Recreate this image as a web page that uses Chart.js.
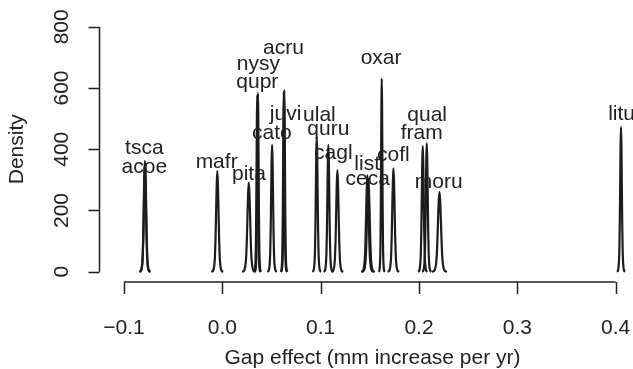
<!DOCTYPE html>
<html>
<head>
<meta charset="utf-8">
<script src="https://cdn.jsdelivr.net/npm/chart.js@4/dist/chart.umd.min.js"></script>
<style>
  html, body { margin: 0; padding: 0; background: #ffffff; }
  canvas { display: block; }
</style>
</head>
<body>
<canvas id="c" width="633" height="369"></canvas>
<script>
// ---- data ----
const speciesNames = ['tsca','acoe','mafr','pita','qupr','nysy','cato','juvi','acru','ulal',
                      'quru','cagl','list','ceca','oxar','cofl','fram','qual','moru','litu'];
// posterior mode of each gap effect (mm increase per yr)
const peakCenters = [-0.0788,-0.0786,-0.0051,0.0269,0.0355,0.0362,0.0506,0.0625,0.0630,0.0960,
                     0.1078,0.1170,0.1475,0.1485,0.1621,0.1740,0.2038,0.2079,0.2208,0.4054];
// peak density heights
const peakHeights = [362,356,329,291,578,584,414,588,593,441,
                     414,332,315,303,631,338,410,419,261,473];
// spread (sd) of each density curve
const peakSpreads = [0.00110,0.00112,0.00121,0.00137,0.00069,0.00068,0.00096,0.00068,0.00067,0.00090,
                     0.00096,0.00120,0.00127,0.00132,0.00063,0.00118,0.00097,0.00095,0.00153,0.00084];
// shared bell profile: offsets (in spreads) and relative heights
const profileZ   = [-5,-4,-3.5,-3,-2.5,-2,-1.5,-1,-0.5,0,0.5,1,1.5,2,2.5,3,3.5,4,5];
const profileRel = [0,0.004,0.012,0.03,0.07,0.15,0.33,0.61,0.88,1,0.88,0.61,0.33,0.15,0.07,0.03,0.012,0.004,0];

// label positions (data coordinates)
const labelText = ['tsca','acoe','mafr','pita','qupr','nysy','acru','cato','juvi','ulal',
                   'quru','cagl','list','ceca','oxar','cofl','qual','fram','moru','litu'];
const labelX = [-0.0793,-0.0793,-0.0058,0.0270,0.0356,0.0366,0.0621,0.0503,0.0643,0.0987,
                0.1078,0.1129,0.1473,0.1479,0.1614,0.1740,0.2083,0.2028,0.2200,0.4060];
const labelY = [405,340,358,320,619,677,731,452,514,510,
                467,386,350,301,699,380,510,451,291,514];

// axes
const xTicks = [-0.1, 0.0, 0.1, 0.2, 0.3, 0.4];
const xTickLabels = ['\u22120.1','0.0','0.1','0.2','0.3','0.4'];
const yTicks = [0, 200, 400, 600, 800];
const yTickLabels = ['0','200','400','600','800'];
const xTitle = 'Gap effect (mm increase per yr)';
const yTitle = 'Density';

// ---- build datasets ----
const datasets = speciesNames.map((name, i) => ({
  label: name,
  data: profileZ.map((z, k) => ({ x: peakCenters[i] + z * peakSpreads[i], y: peakHeights[i] * profileRel[k] })),
  showLine: true,
  borderColor: '#1c1c1c',
  borderWidth: 2.2,
  pointRadius: 0,
  fill: false,
  cubicInterpolationMode: 'monotone'
}));

const FONT = '21px "Liberation Sans", Arial, Helvetica, sans-serif';
const INK = '#222222';

const decor = {
  id: 'decor',
  afterDatasetsDraw(chart) {
    const { ctx, chartArea, scales: { x, y } } = chart;
    ctx.save();
    ctx.strokeStyle = INK;
    ctx.fillStyle = INK;
    ctx.lineWidth = 1.5;
    ctx.font = FONT;

    // labels
    ctx.textAlign = 'center';
    ctx.textBaseline = 'middle';
    labelText.forEach((t, i) => {
      ctx.fillText(t, x.getPixelForValue(labelX[i]), y.getPixelForValue(labelY[i]));
    });

    // x axis
    const ax = chartArea.bottom + 0.5;
    const x0 = x.getPixelForValue(xTicks[0]);
    const x1 = x.getPixelForValue(xTicks[xTicks.length - 1]);
    ctx.beginPath();
    ctx.moveTo(x0, ax); ctx.lineTo(x1, ax);
    xTicks.forEach(v => {
      const px = Math.round(x.getPixelForValue(v)) + 0.5;
      ctx.moveTo(px, ax); ctx.lineTo(px, ax + 12);
    });
    ctx.stroke();
    ctx.textBaseline = 'middle';
    xTicks.forEach((v, i) => {
      ctx.fillText(xTickLabels[i], x.getPixelForValue(v), ax + 46);
    });
    ctx.fillText(xTitle, (chartArea.left + chartArea.right) / 2 + 6, ax + 76);

    // y axis
    const ay = chartArea.left - 0.5;
    const y0 = y.getPixelForValue(yTicks[0]);
    const y1 = y.getPixelForValue(yTicks[yTicks.length - 1]);
    ctx.beginPath();
    ctx.moveTo(ay, y0); ctx.lineTo(ay, y1);
    yTicks.forEach(v => {
      const py = Math.round(y.getPixelForValue(v)) + 0.5;
      ctx.moveTo(ay, py); ctx.lineTo(ay - 11, py);
    });
    ctx.stroke();
    yTicks.forEach((v, i) => {
      ctx.save();
      ctx.translate(ay - 37, y.getPixelForValue(v));
      ctx.rotate(-Math.PI / 2);
      ctx.fillText(yTickLabels[i], 0, 0);
      ctx.restore();
    });
    ctx.save();
    ctx.translate(17, (chartArea.top + chartArea.bottom) / 2);
    ctx.rotate(-Math.PI / 2);
    ctx.fillText(yTitle, 0, 0);
    ctx.restore();

    ctx.restore();
  }
};

new Chart(document.getElementById('c'), {
  type: 'scatter',
  data: { datasets },
  options: {
    responsive: false,
    animation: false,
    devicePixelRatio: 1,
    layout: { padding: { left: 100, right: 0, top: 17, bottom: 87.5 } },
    plugins: { legend: { display: false }, tooltip: { enabled: false } },
    scales: {
      x: { type: 'linear', min: -0.1244, max: 0.4176, display: false },
      y: { type: 'linear', min: -32, max: 832, display: false }
    }
  },
  plugins: [decor]
});
</script>
</body>
</html>
